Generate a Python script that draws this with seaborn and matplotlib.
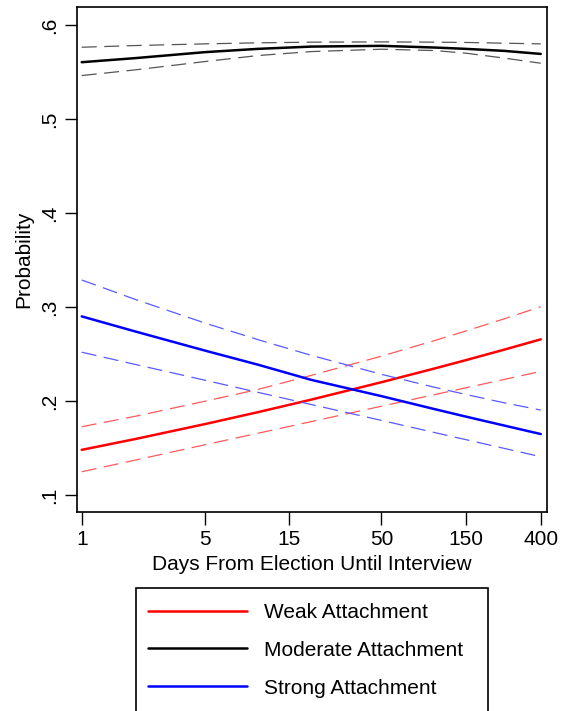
import numpy as np
import pandas as pd
import matplotlib
matplotlib.use("Agg")
import matplotlib.pyplot as plt
from matplotlib.patches import Rectangle
from matplotlib.lines import Line2D
import seaborn as sns

# ---- data ----
days = [1, 2, 5, 10, 20, 50, 100, 150, 250, 400]
weak = [0.1481, 0.1595, 0.1755, 0.1882, 0.2015, 0.2200, 0.2346, 0.2434, 0.2548, 0.2656]
weak_hi = [0.1727, 0.1837, 0.1998, 0.2124, 0.2273, 0.2477, 0.2643, 0.2744, 0.2876, 0.3003]
weak_lo = [0.1248, 0.1371, 0.1535, 0.1658, 0.1781, 0.1945, 0.2068, 0.2140, 0.2231, 0.2315]
moderate = [0.5603, 0.5646, 0.5710, 0.5745, 0.5769, 0.5777, 0.5759, 0.5745, 0.5723, 0.5691]
moderate_hi = [0.5762, 0.5780, 0.5798, 0.5809, 0.5816, 0.5819, 0.5816, 0.5813, 0.5805, 0.5798]
moderate_lo = [0.5461, 0.5521, 0.5610, 0.5674, 0.5716, 0.5741, 0.5727, 0.5699, 0.5646, 0.5592]
strong = [0.2900, 0.2741, 0.2536, 0.2386, 0.2225, 0.2052, 0.1914, 0.1835, 0.1738, 0.1649]
strong_hi = [0.3287, 0.3082, 0.2829, 0.2652, 0.2486, 0.2284, 0.2146, 0.2070, 0.1980, 0.1904]
strong_lo = [0.2519, 0.2390, 0.2221, 0.2092, 0.1963, 0.1794, 0.1665, 0.1590, 0.1495, 0.1408]

series_names = ["Weak Attachment", "Moderate Attachment", "Strong Attachment"]
series_vals = [weak, moderate, strong]
series_hi = [weak_hi, moderate_hi, strong_hi]
series_lo = [weak_lo, moderate_lo, strong_lo]
colors = ["#ff0000", "#000000", "#0000ff"]
ci_colors = ["#ff5a5a", "#555555", "#5a5aff"]

x_ticks = [1, 5, 15, 50, 150, 400]
x_ticklabels = ["1", "5", "15", "50", "150", "400"]
y_ticks = [0.1, 0.2, 0.3, 0.4, 0.5, 0.6]
y_ticklabels = [".1", ".2", ".3", ".4", ".5", ".6"]

sns.set_style("ticks")
plt.rcParams["font.family"] = ["Liberation Sans", "DejaVu Sans"]
plt.rcParams["text.color"] = "black"
plt.rcParams["axes.labelcolor"] = "black"

FS = 15

fig = plt.figure(figsize=(5.63, 7.11), dpi=100)
ax = fig.add_axes([77 / 563, 1 - 512 / 711, (547 - 77) / 563, (512 - 7) / 711])

for name, vals, hi, lo, c, cc in zip(series_names, series_vals, series_hi,
                                      series_lo, colors, ci_colors):
    df = pd.DataFrame({"days": days, "p": vals, "hi": hi, "lo": lo})
    for col in ["hi", "lo"]:
        sns.lineplot(data=df, x="days", y=col, ax=ax, color=cc, lw=0.9,
                     linestyle=(0, (12, 6)), legend=False)
    sns.lineplot(data=df, x="days", y="p", ax=ax, color=c, lw=1.8,
                 legend=False)

ax.set_xscale("log")
ax.set_xlim(0.94, 434)
ax.set_ylim(0.082, 0.619)
ax.set_xticks(x_ticks)
ax.set_xticklabels(x_ticklabels)
ax.xaxis.set_minor_locator(matplotlib.ticker.NullLocator())
ax.set_yticks(y_ticks)
ax.set_yticklabels(y_ticklabels, rotation=90, va="center")
ax.tick_params(axis="both", direction="out", length=9, width=1.0,
               labelsize=FS, colors="black", pad=4)
ax.set_xlabel("Days From Election Until Interview", fontsize=FS, labelpad=4,
              color="black")
ax.set_ylabel("Probability", fontsize=FS, labelpad=5, color="black")
for s in ax.spines.values():
    s.set_visible(True)
    s.set_linewidth(1.2)
    s.set_color("black")

# legend box (extends past the bottom edge, as in the reference)
rect = Rectangle((136 / 563, -0.05), (488 - 136) / 563, 0.05 + 1 - 588 / 711,
                 transform=fig.transFigure, fill=False, edgecolor="black",
                 lw=1.2, clip_on=False)
fig.patches.append(rect)
handles = [Line2D([], [], color=c, lw=1.8) for c in colors]
leg = fig.legend(handles, series_names, loc="upper left",
                 bbox_to_anchor=(148 / 563, 1 - 603 / 711), frameon=False,
                 fontsize=FS, handlelength=4.76, handletextpad=0.82,
                 labelspacing=0.9, borderaxespad=0, borderpad=0)
for t in leg.get_texts():
    t.set_color("black")

fig.savefig("out.png", dpi=100)
